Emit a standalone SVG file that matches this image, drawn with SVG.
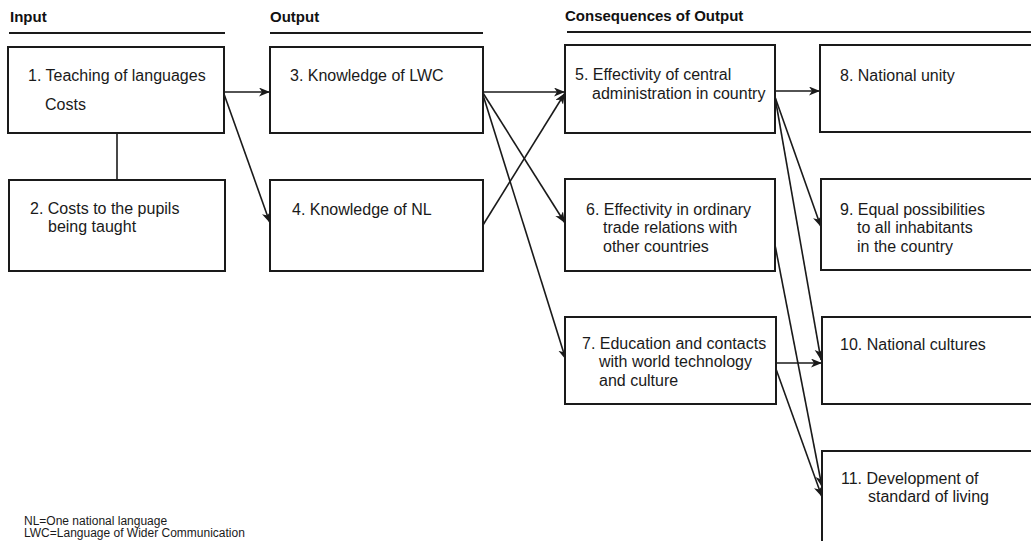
<svg xmlns="http://www.w3.org/2000/svg" width="1031" height="541" viewBox="0 0 1031 541">
<style>
.box{fill:#fff;stroke:#1a1a1a;stroke-width:2}
.hdr{font-family:"Liberation Sans",Arial,sans-serif;font-weight:bold;font-size:15px;fill:#111}
.hline{stroke:#1a1a1a;stroke-width:1.8}
.t{font-family:"Liberation Sans",Arial,sans-serif;font-size:16px;fill:#1a1a1a}
.note{font-family:"Liberation Sans",Arial,sans-serif;font-size:12px;fill:#1a1a1a}
.c{stroke:#1a1a1a;stroke-width:1.6;fill:none}
.a{marker-end:url(#arr)}
</style>
<defs>
<marker id="arr" markerUnits="userSpaceOnUse" markerWidth="12" markerHeight="10" refX="11" refY="4.5" orient="auto">
<path d="M0,0 L11,4.5 L0,9 L3,4.5 z" fill="#1a1a1a"/>
</marker>
</defs>
<rect width="1031" height="541" fill="#fff"/>
<g id="headers">
<text class="hdr" x="10" y="22">Input</text>
<line class="hline" x1="9" y1="33" x2="225" y2="33"/>
<text class="hdr" x="270" y="22">Output</text>
<line class="hline" x1="270" y1="33" x2="483" y2="33"/>
<text class="hdr" x="565" y="21">Consequences of Output</text>
<line class="hline" x1="567" y1="32" x2="1031" y2="32"/>
</g>
<g id="connectors">
<line class="c" x1="117" y1="133" x2="117" y2="180"/>
<line class="c a" x1="224" y1="92" x2="270" y2="92"/>
<line class="c a" x1="224" y1="94" x2="270" y2="223"/>
<line class="c a" x1="483" y1="92" x2="565" y2="92"/>
<line class="c a" x1="483" y1="93" x2="565" y2="223"/>
<line class="c a" x1="483" y1="95" x2="566" y2="360"/>
<line class="c a" x1="483" y1="225" x2="565" y2="93"/>
<line class="c a" x1="775" y1="91" x2="820" y2="91"/>
<line class="c a" x1="775" y1="97" x2="821" y2="227"/>
<line class="c a" x1="775" y1="97" x2="821" y2="360"/>
<line class="c a" x1="775" y1="245" x2="822" y2="487"/>
<line class="c a" x1="776" y1="363" x2="822" y2="363"/>
<line class="c a" x1="776" y1="369" x2="822" y2="497"/>
</g>
<g id="n1"><rect class="box" x="8" y="47" width="216" height="86"/>
<text class="t" x="28" y="81">1. Teaching of languages</text>
<text class="t" x="45" y="110">Costs</text></g>
<g id="n2"><rect class="box" x="9" y="180" width="216" height="91"/>
<text class="t" x="30" y="214">2. Costs to the pupils</text>
<text class="t" x="48" y="232">being taught</text></g>
<g id="n3"><rect class="box" x="270" y="47" width="213" height="86"/>
<text class="t" x="290" y="81">3. Knowledge of LWC</text></g>
<g id="n4"><rect class="box" x="270" y="180" width="213" height="91"/>
<text class="t" x="292" y="215">4. Knowledge of NL</text></g>
<g id="n5"><rect class="box" x="565" y="45" width="210" height="88"/>
<text class="t" x="575" y="80">5. Effectivity of central</text>
<text class="t" x="592" y="99">administration in country</text></g>
<g id="n6"><rect class="box" x="565" y="179" width="210" height="92"/>
<text class="t" x="586" y="215">6. Effectivity in ordinary</text>
<text class="t" x="603" y="233">trade relations with</text>
<text class="t" x="603" y="252">other countries</text></g>
<g id="n7"><rect class="box" x="565" y="317" width="211" height="87"/>
<text class="t" x="582" y="349">7. Education and contacts</text>
<text class="t" x="599" y="367">with world technology</text>
<text class="t" x="599" y="386">and culture</text></g>
<g id="n8"><rect class="box" x="820" y="45" width="220" height="87"/>
<text class="t" x="840" y="81">8. National unity</text></g>
<g id="n9"><rect class="box" x="821" y="179" width="220" height="91"/>
<text class="t" x="840" y="215">9. Equal possibilities</text>
<text class="t" x="857" y="233">to all inhabitants</text>
<text class="t" x="857" y="252">in the country</text></g>
<g id="n10"><rect class="box" x="822" y="317" width="220" height="87"/>
<text class="t" x="840" y="350">10. National cultures</text></g>
<g id="n11"><rect class="box" x="822" y="451" width="220" height="95"/>
<text class="t" x="841" y="484">11. Development of</text>
<text class="t" x="868" y="502">standard of living</text></g>
<g id="notes">
<text class="note" x="24" y="525">NL=One national language</text>
<text class="note" x="24" y="537">LWC=Language of Wider Communication</text>
</g>
</svg>
